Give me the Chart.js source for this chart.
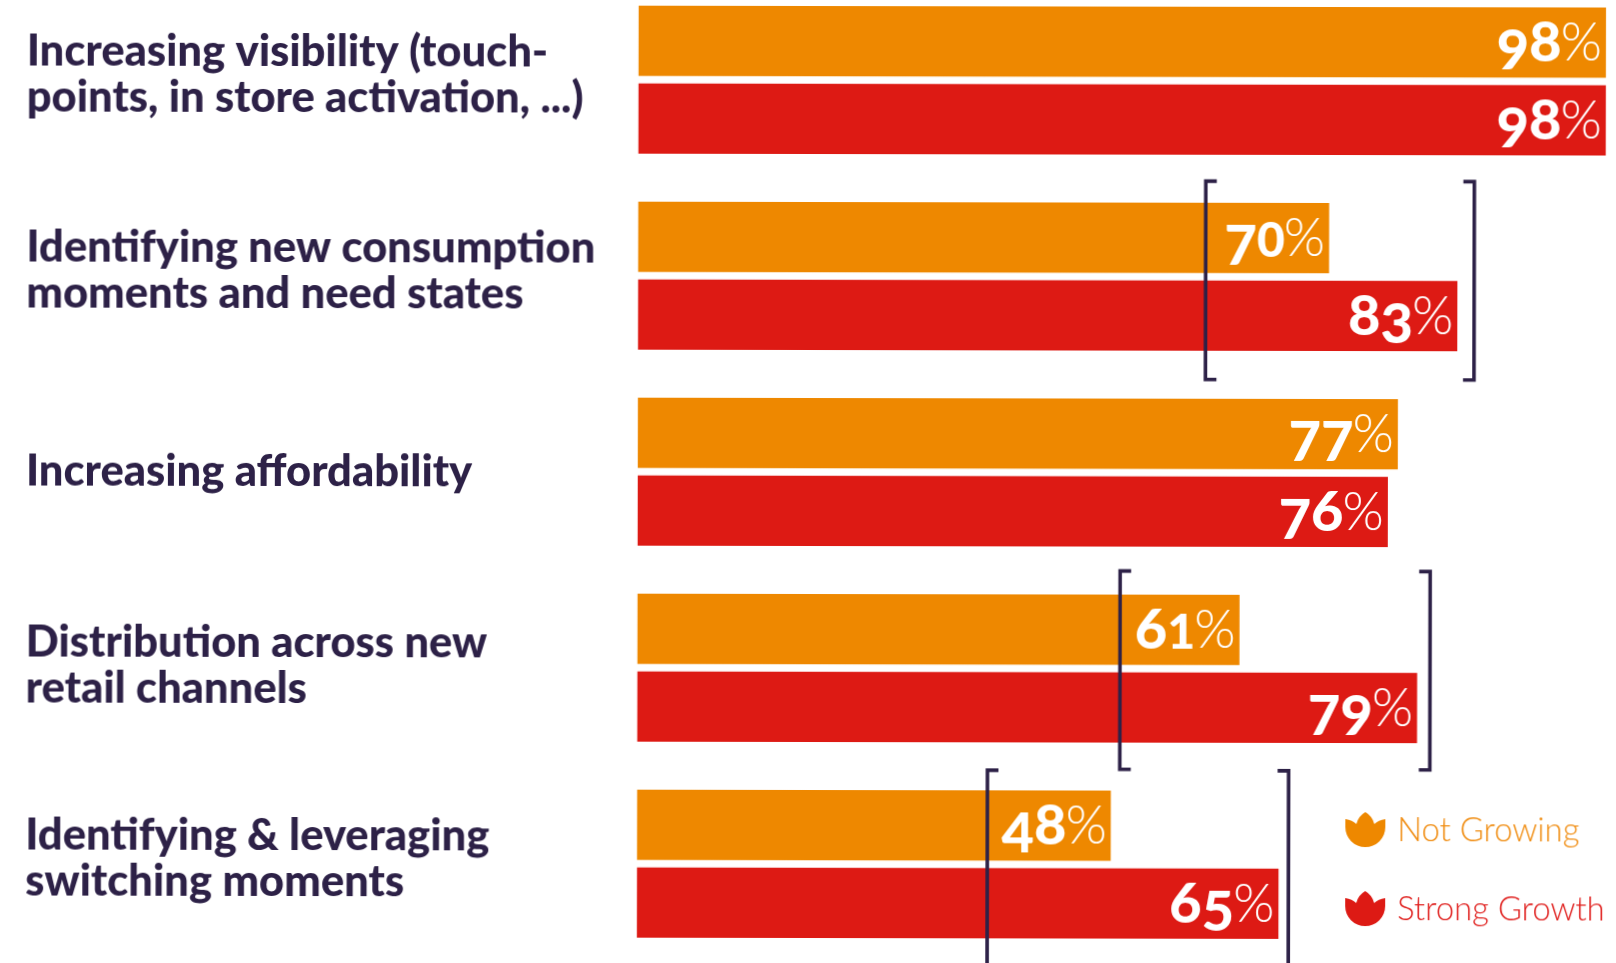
<!DOCTYPE html>
<html>
<head>
<meta charset="utf-8">
<title>Growth drivers</title>
<script src="https://cdn.jsdelivr.net/npm/chart.js@4"></script>
<style>
  html, body { margin: 0; padding: 0; width: 1616px; height: 963px; overflow: hidden; background: #fff; }
  #chart { position: absolute; left: 0; top: -20px; transform: rotate(0.11deg); }
</style>
</head>
<body>
<canvas id="chart" width="1616" height="1003"></canvas>
<script>
const categories = [
  ['Increasing visibility (touch-', 'points, in store activation, ...)'],
  ['Identifying new consumption', 'moments and need states'],
  'Increasing affordability',
  ['Distribution across new', 'retail channels'],
  ['Identifying & leveraging', 'switching moments']
];
const seriesNames = ['Not Growing', 'Strong Growth'];
const notGrowing = [98, 70, 77, 61, 48];
const strongGrowth = [98, 83, 76, 79, 65];
// Gap brackets: vertical centre on the category scale and the value each side sits at
const bracketRows = [1.018, 3.008, 4.026];
const bracketFrom = [57.5, 48.9, 35.5];
const bracketTo = [84.7, 80.3, 66.0];

const ORANGE = '#EE8800';
const RED = '#DD1A14';
const NAVY = '#2D2147';
const seriesColors = [ORANGE, RED];
const textColors = ['#F08C10', '#E0201E'];
const labelNudge = [-0.02, -0.02, 0.005, -0.005, -0.02];

// Old-style figures: relative size and drop below the baseline for each digit
const figureStyle = {
  0: [0.86, 0], 1: [0.86, 0], 2: [0.86, 0],
  3: [1, 8], 4: [1, 8], 5: [1, 8], 7: [1, 8], 9: [1, 8],
  6: [1, 0], 8: [1, 0]
};
const FIGURE_SIZE = 56;
const PERCENT_SIZE = 53;

// Writes "NN%" right-aligned inside each bar
const valueLabels = {
  id: 'valueLabels',
  afterDatasetsDraw(chart) {
    const ctx = chart.ctx;
    ctx.save();
    ctx.fillStyle = '#fff';
    ctx.textAlign = 'left';
    ctx.textBaseline = 'alphabetic';
    chart.data.datasets.forEach((ds, d) => {
      chart.getDatasetMeta(d).data.forEach((bar, i) => {
        const base = bar.y + 19;
        ctx.font = `300 ${PERCENT_SIZE}px Lato`;
        const pw = ctx.measureText('%').width;
        const px = bar.x - 4 - pw;
        ctx.fillText('%', px, bar.y + 18);
        const digits = String(ds.data[i]).split('');
        let x = px + 1;
        digits.slice().reverse().forEach(ch => {
          const [scale, drop] = figureStyle[ch];
          ctx.font = `900 ${FIGURE_SIZE * scale}px Lato`;
          x -= ctx.measureText(ch).width;
          ctx.fillText(ch, x, base + drop);
        });
      });
    });
    ctx.restore();
  }
};

// Square brackets spanning the gap between the two series of a category
const gapBrackets = {
  id: 'gapBrackets',
  afterDatasetsDraw(chart) {
    const { ctx, scales: { x, y } } = chart;
    const half = Math.abs(y.getPixelForValue(1) - y.getPixelForValue(0)) * 0.506;
    const foot = 11;
    ctx.save();
    ctx.strokeStyle = NAVY;
    ctx.lineWidth = 3.6;
    ctx.lineCap = 'butt';
    bracketRows.forEach((row, i) => {
      const cy = y.getPixelForValue(row);
      const l = x.getPixelForValue(bracketFrom[i]);
      const r = x.getPixelForValue(bracketTo[i]);
      ctx.beginPath();
      ctx.moveTo(l + foot, cy - half);
      ctx.lineTo(l, cy - half);
      ctx.lineTo(l, cy + half);
      ctx.lineTo(l + foot, cy + half);
      ctx.moveTo(r - foot, cy - half);
      ctx.lineTo(r, cy - half);
      ctx.lineTo(r, cy + half);
      ctx.lineTo(r - foot, cy + half);
      ctx.stroke();
    });
    ctx.restore();
  }
};

// Legend with a tulip marker, placed in the free space at the lower right
const tulipPath = new Path2D('M0,7 Q7,8 11,12 Q13,4 20,0 Q27,4 29,12 Q33,8 40,7 L40,15 A20,20 0 0 1 0,15 Z');
const tulipLegend = {
  id: 'tulipLegend',
  afterDraw(chart) {
    const ctx = chart.ctx;
    const rowY = [849, 928];
    ctx.save();
    ctx.textAlign = 'left';
    ctx.textBaseline = 'middle';
    ctx.font = '300 32.8px Lato';
    chart.data.datasets.forEach((ds, i) => {
      ctx.save();
      ctx.translate(1346, rowY[i] - 18);
      ctx.fillStyle = ds.backgroundColor;
      ctx.fill(tulipPath);
      ctx.restore();
      ctx.fillStyle = textColors[i];
      ctx.fillText(ds.label, 1398, rowY[i]);
    });
    ctx.restore();
  }
};

new Chart(document.getElementById('chart'), {
  type: 'bar',
  data: {
    labels: categories,
    datasets: [
      { label: seriesNames[0], data: notGrowing, backgroundColor: seriesColors[0] },
      { label: seriesNames[1], data: strongGrowth, backgroundColor: seriesColors[1] }
    ]
  },
  options: {
    indexAxis: 'y',
    responsive: false,
    animation: false,
    barPercentage: 0.905,
    categoryPercentage: 0.805,
    layout: { padding: { left: 26, top: 2, bottom: 21, right: 1 } },
    plugins: { legend: { display: false }, tooltip: { enabled: false } },
    scales: {
      x: { min: 0, max: 99, display: false },
      y: {
        grid: { display: false },
        border: { display: false },
        afterFit(scale) {
          // the plot spans the full height; captions need no extra margin
          scale.width = 611.5;
          scale.paddingTop = 0;
          scale.paddingBottom = 0;
        },
        afterTickToLabelConversion(scale) {
          // lift each caption slightly above the centre of its bar pair
          scale.ticks.forEach((t, i) => { t.value += labelNudge[i]; });
        },
        ticks: {
          autoSkip: false,
          crossAlign: 'far',
          color: NAVY,
          padding: 0,
          font: { family: 'Lato', weight: '900', size: 43.5, lineHeight: 1.042 }
        }
      }
    }
  },
  plugins: [gapBrackets, valueLabels, tulipLegend]
});
</script>
</body>
</html>
